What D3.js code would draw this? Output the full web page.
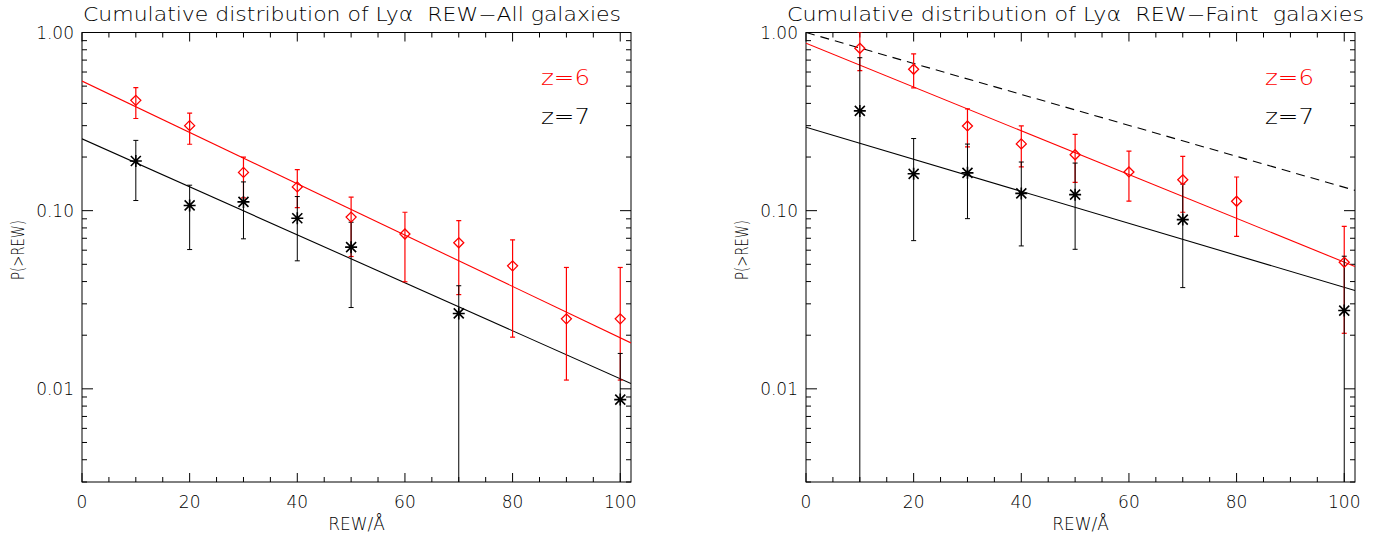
<!DOCTYPE html>
<html>
<head>
<meta charset="utf-8">
<script src="https://cdn.jsdelivr.net/npm/d3@7"></script>
<style>
  body { margin: 0; background: #fff; }
  text { font-family: "DejaVu Sans", sans-serif; font-weight: 200; fill: #000; white-space: pre; }
</style>
</head>
<body>
<div id="chart"></div>
<script>
// REW bins (Angstrom)
const rewAll6 = [10, 20, 30, 40, 50, 60, 70, 80, 90, 100];
const all6 = [0.416, 0.300, 0.164, 0.136, 0.092, 0.074, 0.066, 0.049, 0.0247, 0.0247];
const all6Hi = [0.490, 0.353, 0.200, 0.170, 0.119, 0.098, 0.088, 0.0686, 0.048, 0.048];
const all6Lo = [0.329, 0.236, 0.118, 0.104, 0.0553, 0.0399, 0.0338, 0.0195, 0.0112, 0.0112];

const rewAll7 = [10, 20, 30, 40, 50, 70, 100];
const all7 = [0.190, 0.107, 0.112, 0.0906, 0.0624, 0.0265, 0.0087];
const all7Hi = [0.248, 0.139, 0.145, 0.120, 0.0861, 0.0379, 0.0158];
const all7Lo = [0.114, 0.0605, 0.0695, 0.0523, 0.0286, 0, 0]; // 0 = runs off the bottom

const rewFaint6 = [10, 20, 30, 40, 50, 60, 70, 80, 100];
const faint6 = [0.815, 0.622, 0.299, 0.237, 0.206, 0.165, 0.149, 0.113, 0.0513];
const faint6Hi = [1.0, 0.758, 0.373, 0.299, 0.268, 0.216, 0.2015, 0.1545, 0.0817];
const faint6Lo = [0.611, 0.489, 0.228, 0.176, 0.144, 0.113, 0.098, 0.0718, 0.0205];

const rewFaint7 = [10, 20, 30, 40, 50, 70, 100];
const faint7 = [0.363, 0.161, 0.163, 0.125, 0.123, 0.0891, 0.0275];
const faint7Hi = [0.722, 0.254, 0.2365, 0.1875, 0.185, 0.141, 0.0555];
const faint7Lo = [0, 0.0679, 0.0902, 0.0634, 0.0607, 0.037, 0];

// fitted lines, values at both ends of the x range
const fitX = [0, 102];
const all6Fit = [0.534, 0.0181];
const all7Fit = [0.253, 0.0107];
const faint6Fit = [0.87, 0.0486];
const faint7Fit = [0.294, 0.0356];
const faintRef = [1.0, 0.13];

const xTickValues = [0, 20, 40, 60, 80, 100];
const yTickValues = [0.01, 0.1, 1];
const yTickLabels = ["0.01", "0.10", "1.00"];
const legendLabels = ["z=6", "z=7"];

const RED = "#ff0000";
const width = 1386, height = 538;

const svg = d3.select("#chart").append("svg")
    .attr("width", width)
    .attr("height", height);

function drawPanel(p) {
    const x = d3.scaleLinear().domain([0, 102]).range([p.left, p.left + 549]);
    const y = d3.scaleLog().domain([0.003, 1]).range([482, 32.5]);
    const g = svg.append("g");

    g.append("clipPath").attr("id", p.id + "-clip")
        .append("rect")
        .attr("x", x.range()[0]).attr("y", y.range()[1])
        .attr("width", x.range()[1] - x.range()[0])
        .attr("height", y.range()[0] - y.range()[1]);

    // frame with ticks on all four sides
    const minorX = d3.range(0, 101, 5).filter(v => v % 20 !== 0);
    const minorY = [];
    [0.001, 0.01, 0.1].forEach(d => d3.range(2, 10).forEach(k => {
        const v = d * k;
        if (v >= 0.003 && v < 1) minorY.push(v);
    }));

    const axisG = g.append("g").attr("stroke", "#000").attr("stroke-width", 1);
    axisG.append("rect")
        .attr("x", x.range()[0]).attr("y", y.range()[1])
        .attr("width", x.range()[1] - x.range()[0])
        .attr("height", y.range()[0] - y.range()[1])
        .attr("fill", "none");

    const xt = xTickValues.map(v => [v, 9]).concat(minorX.map(v => [v, 5]));
    xt.forEach(([v, len]) => {
        axisG.append("line").attr("x1", x(v)).attr("x2", x(v))
            .attr("y1", y.range()[0]).attr("y2", y.range()[0] - len);
        axisG.append("line").attr("x1", x(v)).attr("x2", x(v))
            .attr("y1", y.range()[1]).attr("y2", y.range()[1] + len);
    });
    const yt = yTickValues.map(v => [v, 11]).concat(minorY.map(v => [v, 5]));
    yt.forEach(([v, len]) => {
        axisG.append("line").attr("y1", y(v)).attr("y2", y(v))
            .attr("x1", x.range()[0]).attr("x2", x.range()[0] + len);
        axisG.append("line").attr("y1", y(v)).attr("y2", y(v))
            .attr("x1", x.range()[1]).attr("x2", x.range()[1] - len);
    });

    // tick labels
    g.selectAll(".xlab").data(xTickValues).enter().append("text")
        .attr("x", d => x(d)).attr("y", 508)
        .attr("text-anchor", "middle").attr("font-size", 17)
        .text(d => d);
    g.selectAll(".ylab").data(yTickValues).enter().append("text")
        .attr("x", x.range()[0] - 8).attr("y", d => y(d))
        .attr("dy", "0.36em")
        .attr("text-anchor", "end").attr("font-size", 17)
        .text((d, i) => yTickLabels[i]);

    g.append("text")
        .attr("x", (x.range()[0] + x.range()[1]) / 2).attr("y", 530)
        .attr("text-anchor", "middle").attr("font-size", 17)
        .text("REW/Å");
    g.append("text")
        .attr("transform", `translate(${p.left - 58},250) rotate(-90)`)
        .attr("text-anchor", "middle").attr("font-size", 18)
        .attr("textLength", 60).attr("lengthAdjust", "spacingAndGlyphs")
        .text("P(>REW)");

    g.append("text")
        .attr("x", p.titleX).attr("y", 21)
        .attr("font-size", 19)
        .attr("textLength", p.titleW).attr("lengthAdjust", "spacingAndGlyphs")
        .text(p.title);

    // legend
    [RED, "#000"].forEach((c, i) => {
        g.append("text")
            .attr("x", p.left + 459).attr("y", i === 0 ? 85 : 124)
            .attr("font-size", 21)
            .attr("textLength", 49).attr("lengthAdjust", "spacingAndGlyphs")
            .style("fill", c)
            .text(legendLabels[i]);
    });

    const plot = g.append("g").attr("clip-path", `url(#${p.id}-clip)`);
    const line = d3.line().x(d => x(d[0])).y(d => y(d[1]));

    p.fits.forEach(f => {
        plot.append("path")
            .attr("d", line(fitX.map((v, i) => [v, f.vals[i]])))
            .attr("fill", "none")
            .attr("stroke", f.color)
            .attr("stroke-width", 1.1)
            .attr("stroke-dasharray", f.dash || null);
    });

    const yBottom = v => v > 0 ? y(v) : y.range()[0] + 5;

    p.series.forEach(s => {
        s.xs.forEach((xv, i) => {
            const cx = x(xv);
            const eg = plot.append("g").attr("stroke", s.color).attr("stroke-width", s.color === RED ? 1.2 : 1);
            eg.append("line").attr("x1", cx).attr("x2", cx)
                .attr("y1", y(s.hi[i])).attr("y2", yBottom(s.lo[i]));
            eg.append("line").attr("x1", cx - 2.5).attr("x2", cx + 2.5)
                .attr("y1", y(s.hi[i])).attr("y2", y(s.hi[i]));
            if (s.lo[i] > 0) {
                eg.append("line").attr("x1", cx - 2.5).attr("x2", cx + 2.5)
                    .attr("y1", y(s.lo[i])).attr("y2", y(s.lo[i]));
            }
        });
    });

    p.series.forEach(s => {
        s.xs.forEach((xv, i) => {
            const cx = x(xv), cy = y(s.ys[i]);
            if (s.symbol === "diamond") {
                plot.append("path")
                    .attr("d", `M${cx},${cy - 5}L${cx + 5},${cy}L${cx},${cy + 5}L${cx - 5},${cy}Z`)
                    .attr("fill", "none").attr("stroke", s.color).attr("stroke-width", 1.3);
            } else {
                const r = 5;
                plot.append("path")
                    .attr("d", `M${cx - r},${cy - r}L${cx + r},${cy + r}M${cx - r},${cy + r}L${cx + r},${cy - r}` +
                        `M${cx},${cy - r - 1}L${cx},${cy + r + 1}M${cx - r - 1},${cy}L${cx + r + 1},${cy}`)
                    .attr("fill", "none").attr("stroke", s.color).attr("stroke-width", 1.6);
            }
        });
    });
}

drawPanel({
    id: "all", left: 82,
    title: "Cumulative distribution of Lyα  REW\u2212All galaxies",
    titleX: 83, titleW: 538,
    fits: [{vals: all6Fit, color: RED}, {vals: all7Fit, color: "#000"}],
    series: [
        {xs: rewAll6, ys: all6, hi: all6Hi, lo: all6Lo, color: RED, symbol: "diamond"},
        {xs: rewAll7, ys: all7, hi: all7Hi, lo: all7Lo, color: "#000", symbol: "star"}
    ]
});

drawPanel({
    id: "faint", left: 806,
    title: "Cumulative distribution of Lyα  REW\u2212Faint  galaxies",
    titleX: 787, titleW: 577,
    fits: [{vals: faintRef, color: "#000", dash: "9,6"}, {vals: faint6Fit, color: RED}, {vals: faint7Fit, color: "#000"}],
    series: [
        {xs: rewFaint6, ys: faint6, hi: faint6Hi, lo: faint6Lo, color: RED, symbol: "diamond"},
        {xs: rewFaint7, ys: faint7, hi: faint7Hi, lo: faint7Lo, color: "#000", symbol: "star"}
    ]
});
</script>
</body>
</html>
